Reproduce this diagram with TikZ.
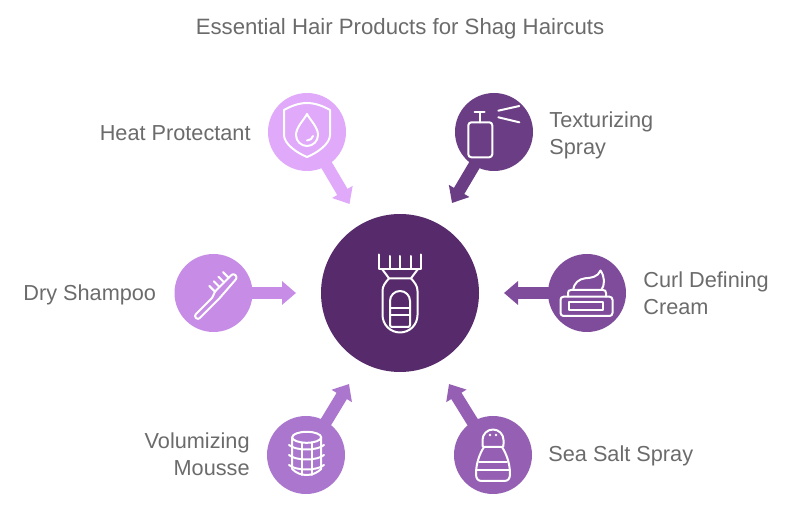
\documentclass[tikz,border=0pt]{standalone}
\usepackage{fontspec}
\setmainfont{Liberation Sans}
\usetikzlibrary{arrows.meta, positioning}

\definecolor{hubcol}{HTML}{572B6B}
\definecolor{heatcol}{HTML}{E0A9FA}
\definecolor{spraycol}{HTML}{6B3D85}
\definecolor{drycol}{HTML}{C78CE6}
\definecolor{curlcol}{HTML}{7F4B9B}
\definecolor{volcol}{HTML}{AB76CD}
\definecolor{saltcol}{HTML}{9560B3}
\definecolor{textcol}{HTML}{6B6B6B}

\tikzset{
  hub/.style={circle, minimum size=158pt, inner sep=0pt, fill=hubcol},
  spoke/.style={circle, minimum size=78pt, inner sep=0pt, on grid},
  pointer/.style={line width=12pt, shorten <=-3pt, -{Triangle[length=14pt, width=23pt]}},
  icon/.style={draw=white, line width=2pt, line cap=round, line join=round},
  txt/.style={text=textcol, font=\fontsize{21.7}{26.5}\selectfont, inner sep=0pt}
}

\begin{document}
\begin{tikzpicture}[x=1pt, y=1pt]
     \useasboundingbox (0,0) rectangle (800,516);

     \node[txt, font=\fontsize{22.2}{27}\selectfont] (title) at (400,487.5) {Essential Hair Products for Shag Haircuts};

     \node[hub] (center) at (400,223) {};
     \node[spoke, fill=heatcol] (heat) [above left=161pt and 93pt of center] {};
     \node[spoke, fill=spraycol] (spray) [above right=161pt and 94pt of center] {};
     \node[spoke, fill=drycol] (dry) [left=186.5pt of center] {};
     \node[spoke, fill=curlcol] (curl) [right=187pt of center] {};
     \node[spoke, fill=volcol] (vol) [below left=162pt and 94pt of center] {};
     \node[spoke, fill=saltcol] (salt) [below right=162pt and 93pt of center] {};

     \node[txt, left=17pt of heat, yshift=-1pt] (heatText) {Heat Protectant};
     \node[txt, right=16pt of spray, align=left, yshift=-3.5pt] (sprayText) {Texturizing\\Spray};
     \node[txt, left=18pt of dry, yshift=-1.5pt] (dryText) {Dry Shampoo};
     \node[txt, right=17pt of curl, align=left] (curlText) {Curl Defining\\Cream};
     \node[txt, left=17pt of vol, align=right, yshift=1pt] (volText) {Volumizing\\Mousse};
     \node[txt, right=16pt of salt, yshift=-1pt] (saltText) {Sea Salt Spray};

     \coordinate (heatTip) at (349.5,312);
     \coordinate (sprayTip) at (452,313);
     \coordinate (dryTip) at (296,223);
     \coordinate (curlTip) at (504,223);
     \coordinate (volTip) at (349,132);
     \coordinate (saltTip) at (449,132);

     \draw[pointer, heatcol] (heat) -- (heatTip);
     \draw[pointer, spraycol] (spray) -- (sprayTip);
     \draw[pointer, drycol] (dry) -- (dryTip);
     \draw[pointer, curlcol] (curl) -- (curlTip);
     \draw[pointer, volcol] (vol) -- (volTip);
     \draw[pointer, saltcol] (salt) -- (saltTip);

     % clipper
     \begin{scope}[shift={(center)}, icon]
       \draw (-21,38.5) -- (-21,24) -- (21,24) -- (21,38.5);
       \foreach \tx in {-10.5,0,10.5} \draw (\tx,24) -- (\tx,37);
       \draw (-18,24) -- (-11,14.7) -- (11,14.7) -- (18,24);
       \draw (-11,14.7) .. controls (-15,10) and (-17.5,7) .. (-17.5,2) -- (-17.5,-22)
         arc[start angle=180, end angle=360, radius=17.5pt] -- (17.5,2)
         .. controls (17.5,7) and (15,10) .. (11,14.7);
       \draw[rounded corners=2pt] (-10,-8) -- (-10,-34) -- (10,-34) -- (10,-8);
       \draw (-10,-8) arc[start angle=180, end angle=0, radius=10pt];
       \draw (-10,-15.3) -- (10,-15.3) (-10,-22) -- (10,-22);
     \end{scope}

     % shield and drop
     \begin{scope}[shift={(heat)}, icon]
       \draw (0,29) .. controls (-8,29) and (-16,26) .. (-23,22) -- (-23,-3)
         .. controls (-23,-12) and (-10,-21) .. (0,-25)
         .. controls (10,-21) and (23,-12) .. (23,-3) -- (23,22)
         .. controls (16,26) and (8,29) .. (0,29);
       \draw (0,18) .. controls (-3,12) and (-11,5) .. (-11,-3)
         arc[start angle=180, end angle=360, radius=11pt]
         .. controls (11,5) and (3,12) .. (0,18);
       \draw (6,-4) .. controls (5.5,-7) and (3,-8) .. (0,-8.5);
     \end{scope}

     % spray bottle
     \begin{scope}[shift={(spray)}, icon]
       \draw[rounded corners=3pt] (-25.7,9.7) rectangle (-1.7,-25.3);
       \draw (-14,9.7) -- (-14,19.7);
       \draw (-19.5,20) -- (-9.5,20);
       \draw (4.3,21.3) -- (25.3,26) (4.3,14.7) -- (25.3,9.7);
     \end{scope}

     % brush
     \begin{scope}[shift={(dry)}, icon]
       \begin{scope}[rotate=45]
         \draw[rounded corners=2.5pt] (-30,-8) -- (-30,-2.5) -- (-3,-2.5) -- (1,0) -- (28,0)
           -- (28,-6) -- (0,-8) -- cycle;
         \foreach \bx in {2,8.5,15,21.5} \draw (\bx,0) -- (\bx,8);
       \end{scope}
     \end{scope}

     % cream jar
     \begin{scope}[shift={(curl)}, icon]
       \draw[rounded corners=3pt] (-26.5,-3.7) rectangle (25.5,-23);
       \draw (-18,-9) rectangle (16,-17);
       \draw (-19,-3.7) -- (-19,0) .. controls (-19,2) and (-18,3) .. (-16,3) -- (16,3)
         .. controls (18,3) and (19,2) .. (19,0) -- (19,-3.7);
       \draw (-14,3) .. controls (-13,10) and (-8,14) .. (-2,14.7)
         .. controls (4,15) and (11,16) .. (13.5,22.5)
         .. controls (18,16) and (18,8) .. (14.3,3);
     \end{scope}

     % curler
     \begin{scope}[shift={(vol)}, icon]
       \draw (0.7,17.7) ellipse[x radius=14.5pt, y radius=5.5pt];
       \draw (-13.8,17.7) -- (-13.8,-14)
         .. controls (-10,-18) and (-5,-20) .. (0.7,-20)
         .. controls (6,-20) and (11,-18) .. (15.2,-14) -- (15.2,17.7);
       \foreach \vx in {-4.5,6} \draw (\vx,12.5) -- (\vx,-20);
       \foreach \ry in {7,-3,-13}
         \draw (-17,\ry+3) .. controls (-10,\ry-3) and (11,\ry-3) .. (18,\ry+3);
     \end{scope}

     % salt shaker
     \begin{scope}[shift={(salt)}, icon]
       \draw (-9,8) .. controls (-10.5,8) and (-10.5,9) .. (-10.5,11) -- (-10.5,15)
         arc[start angle=180, end angle=0, radius=10.5pt] -- (10.5,11)
         .. controls (10.5,9) and (10.5,8) .. (9,8) -- cycle;
       \draw (-9,8) .. controls (-13,2) and (-17,-8) .. (-17,-19)
         .. controls (-17,-24) and (-15,-26) .. (-11,-26) -- (11,-26)
         .. controls (15,-26) and (17,-24) .. (17,-19)
         .. controls (17,-8) and (13,2) .. (9,8);
       \draw (-14,-6.7) -- (14,-6.7) (-16.5,-15) -- (16.5,-15);
       \fill[white] (-3,20) circle[radius=1.4pt] (3,20) circle[radius=1.4pt];
     \end{scope}
\end{tikzpicture}
\end{document}
